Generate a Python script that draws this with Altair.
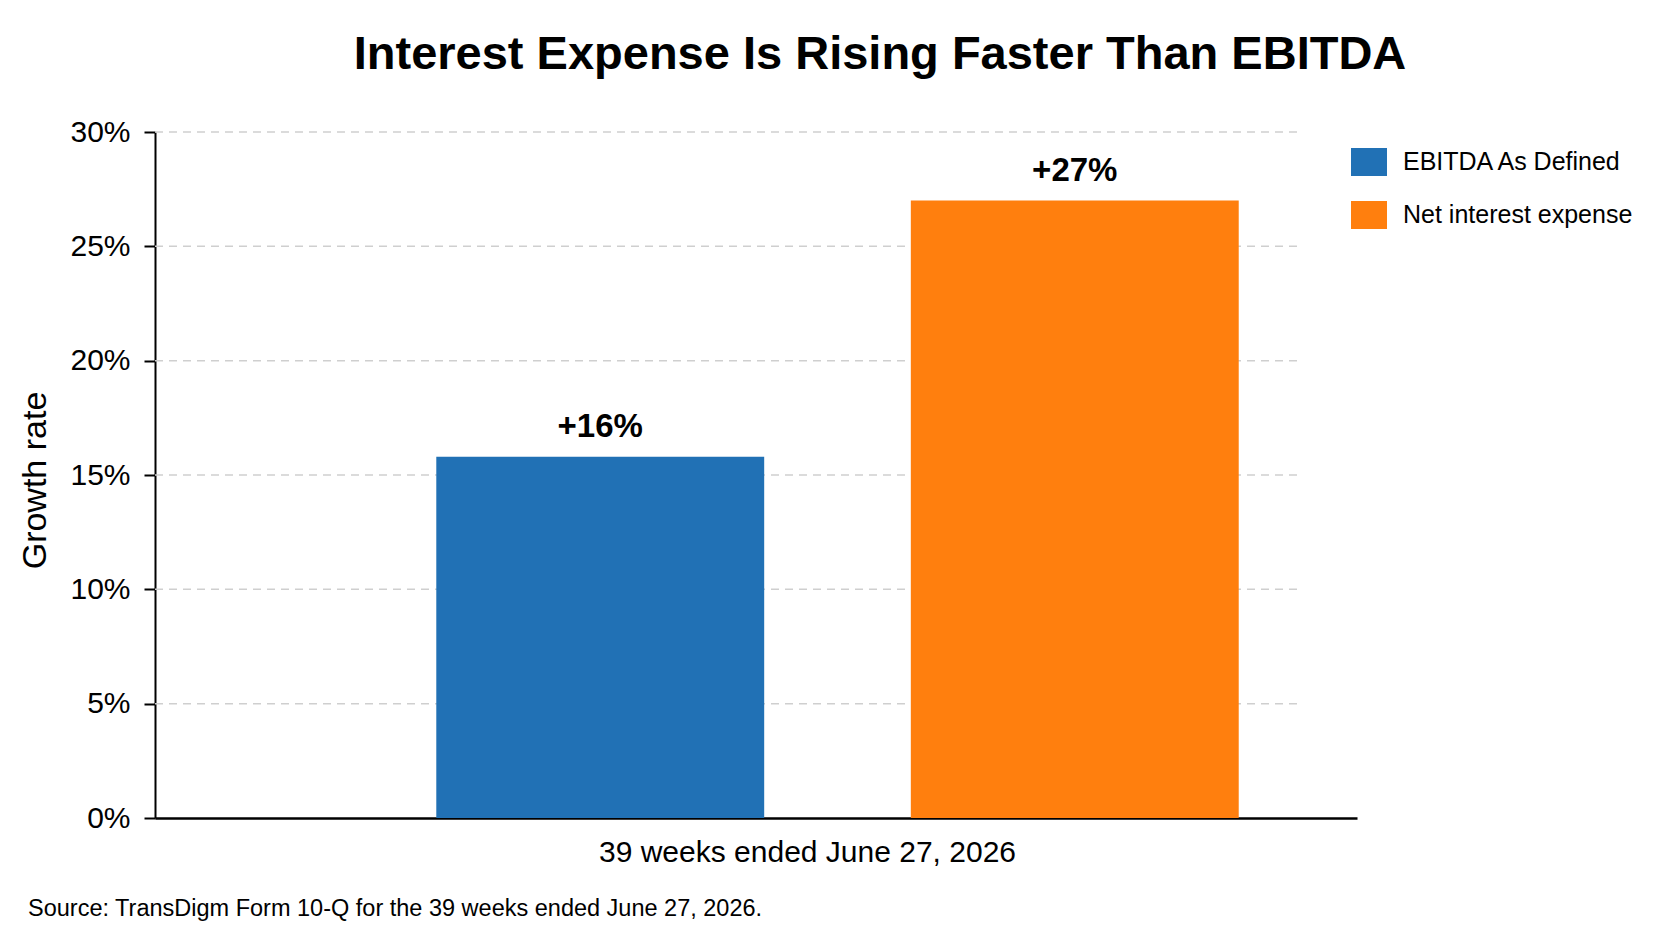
import altair as alt
import pandas as pd

# ---- data ----
series = ["EBITDA As Defined", "Net interest expense"]
growth = [15.8, 27.0]
bar_labels = ["+16%", "+27%"]
colors = ["#2171b5", "#ff7f0e"]
y_ticks = [0, 5, 10, 15, 20, 25, 30]
grid_values = [5, 10, 15, 20, 25, 30]
period = "39 weeks ended June 27, 2026"
title_text = "Interest Expense Is Rising Faster Than EBITDA"
source_text = "Source: TransDigm Form 10-Q for the 39 weeks ended June 27, 2026."

df = pd.DataFrame({"series": series, "growth": growth, "label": bar_labels})
grid_df = pd.DataFrame({"g": grid_values})
src_df = pd.DataFrame({"t": [source_text]})

FONT = "Liberation Sans, Arial, sans-serif"
W, H = 1202, 686

x_enc = alt.X(
    "series:N", sort=series, title=period,
    scale=alt.Scale(paddingInner=0.309, paddingOuter=0.421, align=0.704),
    axis=alt.Axis(labels=False, ticks=False, domainColor="black", domainWidth=2.5,
                  titleFontSize=30, titleFontWeight="normal", titleColor="black",
                  titleX=652, titleY=43, titleAlign="center", titleBaseline="alphabetic"),
)
y_scale = alt.Scale(domain=[0, 30], nice=False, zero=True)
y_axis = alt.Axis(values=y_ticks, labelExpr="datum.value + '%'", grid=False,
                  domainColor="black", domainWidth=2, tickColor="black", tickWidth=2,
                  tickSize=11, labelFontSize=30, labelPadding=14, labelColor="black",
                  titleFontSize=34, titleFontWeight="normal", titleColor="black",
                  titleX=-110, titleY=348, titleAngle=270, titleAlign="center",
                  titleBaseline="alphabetic")

grid = alt.Chart(grid_df).mark_rule(color="#cfcfcf", strokeWidth=1.5, strokeDash=[8, 6]).encode(
    y=alt.Y("g:Q", scale=y_scale, axis=y_axis, title="Growth rate"),
    x=alt.value(0), x2=alt.value(1142),
)

bars = alt.Chart(df).mark_bar().encode(
    x=x_enc,
    y=alt.Y("growth:Q", scale=y_scale, axis=y_axis, title="Growth rate"),
    color=alt.Color("series:N", sort=series,
                    scale=alt.Scale(domain=series, range=colors),
                    legend=alt.Legend(title=None, orient="none", legendX=1196, legendY=12,
                                      symbolType="M-1,-0.78H1V0.78H-1Z", symbolSize=1296,
                                      symbolStrokeWidth=0, symbolOpacity=1,
                                      labelFontSize=25, labelOffset=16, rowPadding=20,
                                      labelLimit=400, labelColor="black", padding=0)),
)

labels = alt.Chart(df).mark_text(fontSize=33, fontWeight="bold", baseline="alphabetic",
                                  dy=-20, color="black").encode(
    x=alt.X("series:N", sort=series),
    y=alt.Y("growth:Q", scale=y_scale, axis=y_axis, title="Growth rate"),
    text="label:N",
)

source = alt.Chart(src_df).mark_text(align="left", baseline="alphabetic", fontSize=23.5,
                                      color="black").encode(
    x=alt.value(-127), y=alt.value(784), text="t:N",
)

chart = alt.layer(grid, bars, labels, source).properties(
    width=W, height=H,
    autosize=alt.AutoSizeParams(type="none"),
    padding={"left": 147, "top": 124, "right": 300, "bottom": 115},
    title=alt.TitleParams(title_text, fontSize=47,
                          font="Liberation Sans, Arial, sans-serif",
                          fontWeight="bold", anchor="middle", frame="group", dx=124,
                          baseline="alphabetic", offset=43, dy=42, color="black"),
).configure(font=FONT, background="white").configure_view(stroke=None)

chart.save("out.html", embed_options={"renderer": "svg", "actions": False})
